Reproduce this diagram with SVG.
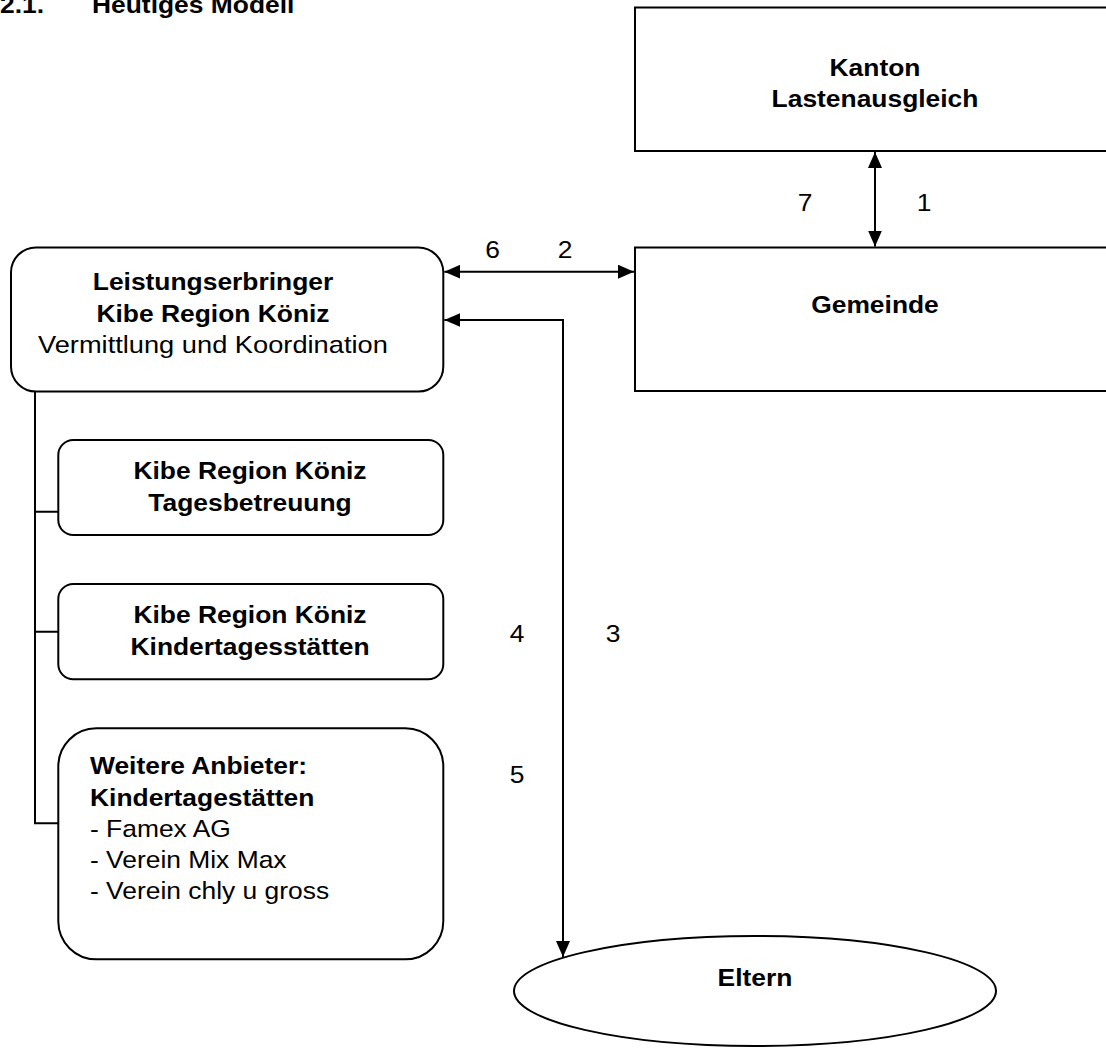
<svg xmlns="http://www.w3.org/2000/svg" width="1106" height="1052" viewBox="0 0 1106 1052">
<style>
.b{font-family:"Liberation Sans",Arial,sans-serif;font-weight:bold;font-size:24px;fill:#000}
.r{font-family:"Liberation Sans",Arial,sans-serif;font-weight:normal;font-size:24px;fill:#000}
.c{text-anchor:middle}
.box{fill:#fff;stroke:#000;stroke-width:2}
.ln{fill:none;stroke:#000;stroke-width:2}
</style>
<defs>
<marker id="ah" markerUnits="userSpaceOnUse" markerWidth="16" markerHeight="14" refX="16" refY="7" orient="auto-start-reverse">
<path d="M0,0 L16,7 L0,14 z" fill="#000"/>
</marker>
</defs>
<rect width="1106" height="1052" fill="#fff"/>
<g id="title">
<text class="b" transform="translate(0 12.5) scale(1.1 1)" x="0" y="0">2.1.</text>
<text class="b" transform="translate(92 12.5) scale(1.1 1)" x="0" y="0">Heutiges Modell</text>
</g>
<g id="connectors">
<line class="ln" x1="875" y1="152" x2="875" y2="246.5" marker-start="url(#ah)" marker-end="url(#ah)"/>
<line class="ln" x1="444.3" y1="271.7" x2="634" y2="271.7" marker-start="url(#ah)" marker-end="url(#ah)"/>
<path class="ln" d="M563,957 V320 H444.3" marker-start="url(#ah)" marker-end="url(#ah)"/>
<path class="ln" d="M35,391.7 V823.3 H58.3 M35,511.7 H58.3 M35,631.7 H58.3"/>
<text class="r c" transform="translate(805 211) scale(1.1 1)">7</text>
<text class="r c" transform="translate(924 211) scale(1.1 1)">1</text>
<text class="r c" transform="translate(492.7 258) scale(1.1 1)">6</text>
<text class="r c" transform="translate(565 258) scale(1.1 1)">2</text>
<text class="r c" transform="translate(517 642) scale(1.1 1)">4</text>
<text class="r c" transform="translate(613 642) scale(1.1 1)">3</text>
<text class="r c" transform="translate(517 783) scale(1.1 1)">5</text>
</g>
<g id="kanton">
<rect class="box" x="635" y="7.5" width="480" height="143.5"/>
<text class="b c" transform="translate(875 0) scale(1.1 1)"><tspan x="0" y="76">Kanton</tspan><tspan x="0" y="107">Lastenausgleich</tspan></text>
</g>
<g id="gemeinde">
<rect class="box" x="635" y="247.5" width="480" height="143.5"/>
<text class="b c" transform="translate(875 0) scale(1.1 1)" x="0" y="313">Gemeinde</text>
</g>
<g id="leistungserbringer">
<rect class="box" x="11" y="247.5" width="432.3" height="144" rx="25" ry="25"/>
<text class="b c" transform="translate(213 0) scale(1.1 1)"><tspan x="0" y="290">Leistungserbringer</tspan><tspan x="0" y="322">Kibe Region Köniz</tspan></text>
<text class="r" transform="translate(38 0) scale(1.1 1)" x="0" y="353" textLength="318" lengthAdjust="spacingAndGlyphs">Vermittlung und Koordination</text>
</g>
<g id="tagesbetreuung">
<rect class="box" x="58.3" y="440" width="385" height="95" rx="15" ry="15"/>
<text class="b c" transform="translate(250 0) scale(1.1 1)"><tspan x="0" y="479">Kibe Region Köniz</tspan><tspan x="0" y="511">Tagesbetreuung</tspan></text>
</g>
<g id="kindertagesstaetten">
<rect class="box" x="58.3" y="584" width="385" height="95.3" rx="15" ry="15"/>
<text class="b c" transform="translate(250 0) scale(1.1 1)"><tspan x="0" y="623">Kibe Region Köniz</tspan><tspan x="0" y="655">Kindertagesstätten</tspan></text>
</g>
<g id="weitere">
<rect class="box" x="58.3" y="728.3" width="385" height="231" rx="38" ry="38"/>
<text transform="translate(90 0) scale(1.1 1)"><tspan class="b" x="0" y="774">Weitere Anbieter:</tspan><tspan class="b" x="0" y="806">Kindertagestätten</tspan><tspan class="r" x="0" y="837">- Famex AG</tspan><tspan class="r" x="0" y="868">- Verein Mix Max</tspan><tspan class="r" x="0" y="899">- Verein chly u gross</tspan></text>
</g>
<g id="eltern">
<ellipse class="box" cx="755" cy="991" rx="241" ry="55"/>
<text class="b c" transform="translate(755 0) scale(1.1 1)" x="0" y="986">Eltern</text>
</g>
</svg>
